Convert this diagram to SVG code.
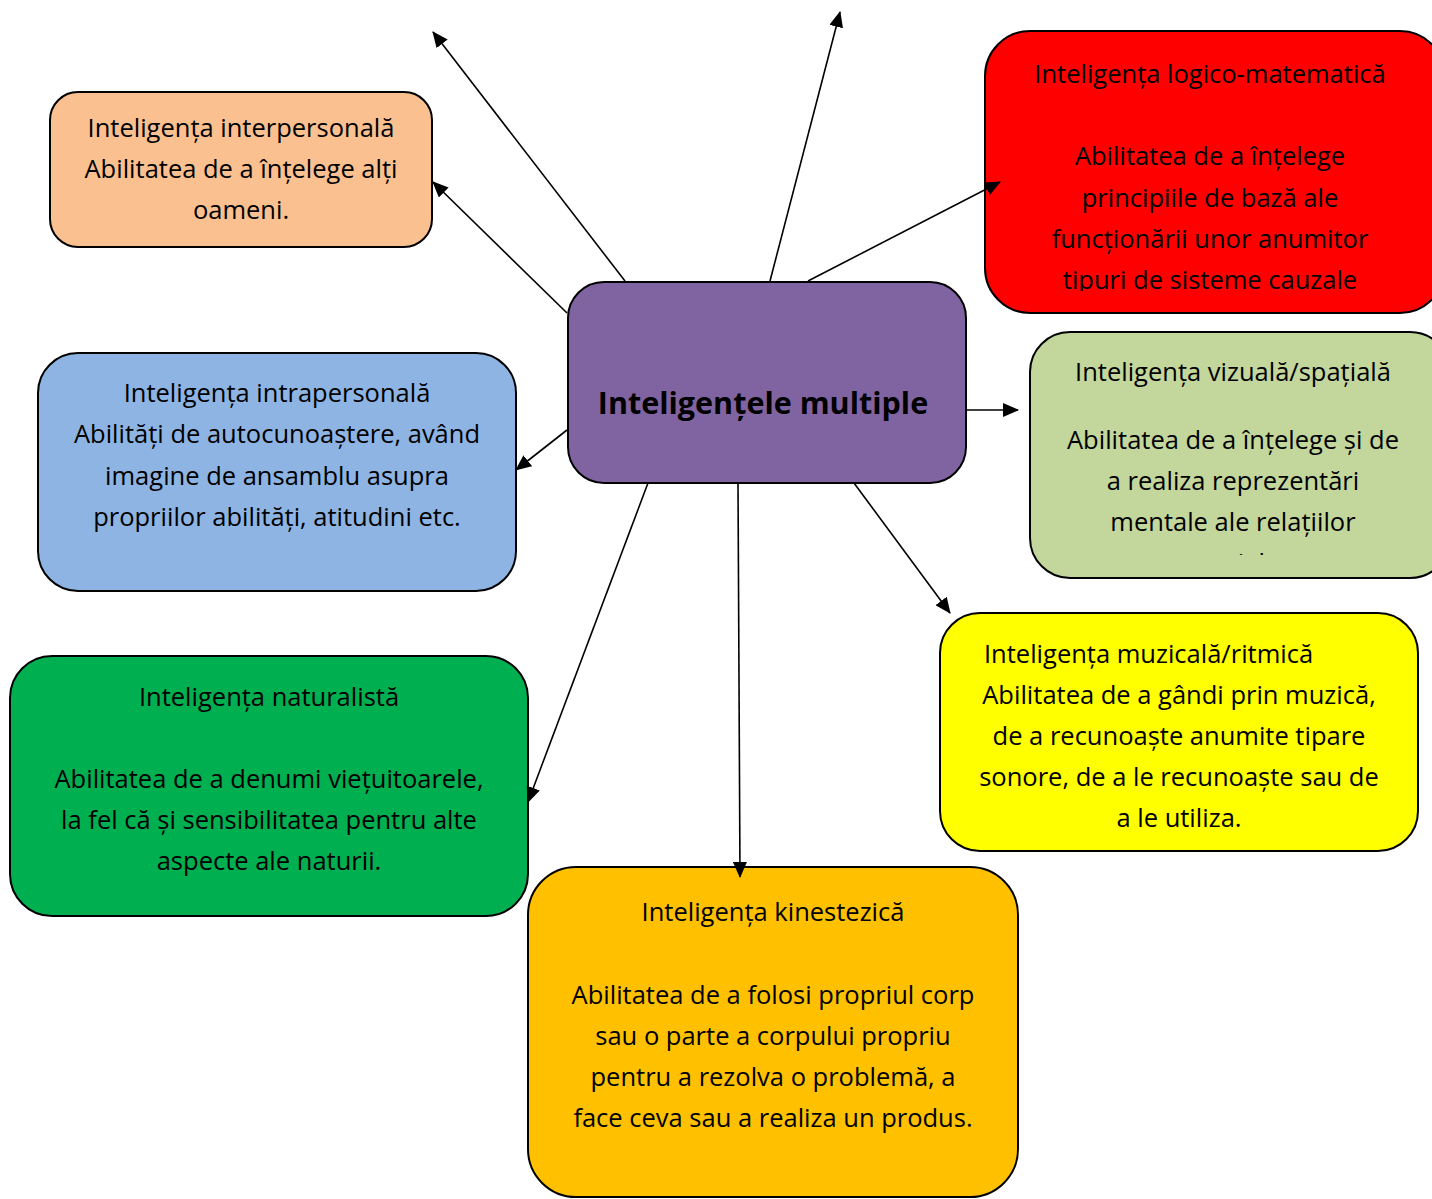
<svg xmlns="http://www.w3.org/2000/svg" width="1432" height="1199" viewBox="0 0 1432 1199">
<style>
.box{stroke:#000;stroke-width:2}
.t{font-family:"Open Sans",Lato,sans-serif;font-size:25.5px;fill:#000;text-anchor:middle}
.c{stroke:#000;stroke-width:1.6;fill:none;marker-end:url(#ah)}
</style>
<defs>
<marker id="ah" markerUnits="userSpaceOnUse" markerWidth="16" markerHeight="14" viewBox="0 0 16 14" refX="15" refY="7" orient="auto">
<path d="M0,0 L16,7 L0,14 z" fill="#000"/>
</marker>
<clipPath id="clipLog"><rect x="985" y="31" width="450" height="260"/></clipPath>
<clipPath id="clipViz"><rect x="1030" y="332" width="410" height="223"/></clipPath>
</defs>
<rect width="1432" height="1199" fill="#fff"/>
<g id="interpersonal">
<rect class="box" x="50" y="92" width="382" height="155" rx="28" fill="#FAC090"/>
<text class="t" x="241" y="137">Inteligența interpersonală</text>
<text class="t" x="241" y="178">Abilitatea de a înțelege alți</text>
<text class="t" x="241" y="219">oameni.</text>
</g>
<g id="intrapersonal">
<rect class="box" x="38" y="353" width="478" height="238" rx="40" fill="#8EB4E3"/>
<text class="t" x="277" y="402">Inteligența intrapersonală</text>
<text class="t" x="277" y="443">Abilități de autocunoaștere, având</text>
<text class="t" x="277" y="485">imagine de ansamblu asupra</text>
<text class="t" x="277" y="526">propriilor abilități, atitudini etc.</text>
</g>
<g id="naturalista">
<rect class="box" x="10" y="656" width="518" height="260" rx="42" fill="#00B050"/>
<text class="t" x="269" y="706">Inteligența naturalistă</text>
<text class="t" x="269" y="788">Abilitatea de a denumi viețuitoarele,</text>
<text class="t" x="269" y="829">la fel că și sensibilitatea pentru alte</text>
<text class="t" x="269" y="870">aspecte ale naturii.</text>
</g>
<g id="kinestezica">
<rect class="box" x="528" y="867" width="490" height="330" rx="48" fill="#FFC000"/>
<text class="t" x="773" y="921">Inteligența kinestezică</text>
<text class="t" x="773" y="1004">Abilitatea de a folosi propriul corp</text>
<text class="t" x="773" y="1045">sau o parte a corpului propriu</text>
<text class="t" x="773" y="1086">pentru a rezolva o problemă, a</text>
<text class="t" x="773" y="1127">face ceva sau a realiza un produs.</text>
</g>
<g id="muzicala">
<rect class="box" x="940" y="613" width="478" height="238" rx="40" fill="#FFFF00"/>
<text class="t" x="984" y="663" style="text-anchor:start">Inteligența muzicală/ritmică</text>
<text class="t" x="1179" y="704">Abilitatea de a gândi prin muzică,</text>
<text class="t" x="1179" y="745">de a recunoaște anumite tipare</text>
<text class="t" x="1179" y="786">sonore, de a le recunoaște sau de</text>
<text class="t" x="1179" y="827">a le utiliza.</text>
</g>
<g id="vizuala">
<rect class="box" x="1030" y="332" width="420" height="246" rx="40" fill="#C3D69B"/>
<g clip-path="url(#clipViz)">
<text class="t" x="1233" y="381">Inteligența vizuală/spațială</text>
<text class="t" x="1233" y="449">Abilitatea de a înțelege și de</text>
<text class="t" x="1233" y="490">a realiza reprezentări</text>
<text class="t" x="1233" y="531">mentale ale relațiilor</text>
<text class="t" x="1233" y="572">spațiale</text>
</g>
</g>
<g id="logico">
<rect class="box" x="985" y="31" width="460" height="282" rx="45" fill="#FF0000"/>
<g clip-path="url(#clipLog)">
<text class="t" x="1210" y="83">Inteligența logico-matematică</text>
<text class="t" x="1210" y="165">Abilitatea de a înțelege</text>
<text class="t" x="1210" y="207">principiile de bază ale</text>
<text class="t" x="1210" y="248">funcționării unor anumitor</text>
<text class="t" x="1210" y="289">tipuri de sisteme cauzale</text>
</g>
</g>
<g id="center">
<rect class="box" x="568" y="282" width="398" height="201" rx="36" fill="#8064A2"/>
<text class="t" x="763" y="414" style="font-weight:bold;font-size:30.5px">Inteligențele multiple</text>
</g>
<g id="connectors">
<line class="c" x1="625" y1="281" x2="433" y2="32"/>
<line class="c" x1="567" y1="313" x2="433" y2="182"/>
<line class="c" x1="770" y1="281" x2="840" y2="12"/>
<line class="c" x1="808" y1="281" x2="1000" y2="182"/>
<line class="c" x1="966" y1="410" x2="1018" y2="410"/>
<line class="c" x1="567" y1="430" x2="516" y2="470"/>
<line class="c" x1="648" y1="483" x2="528" y2="802"/>
<line class="c" x1="738" y1="483" x2="740" y2="877"/>
<line class="c" x1="854" y1="483" x2="950" y2="613"/>
</g>
</svg>
